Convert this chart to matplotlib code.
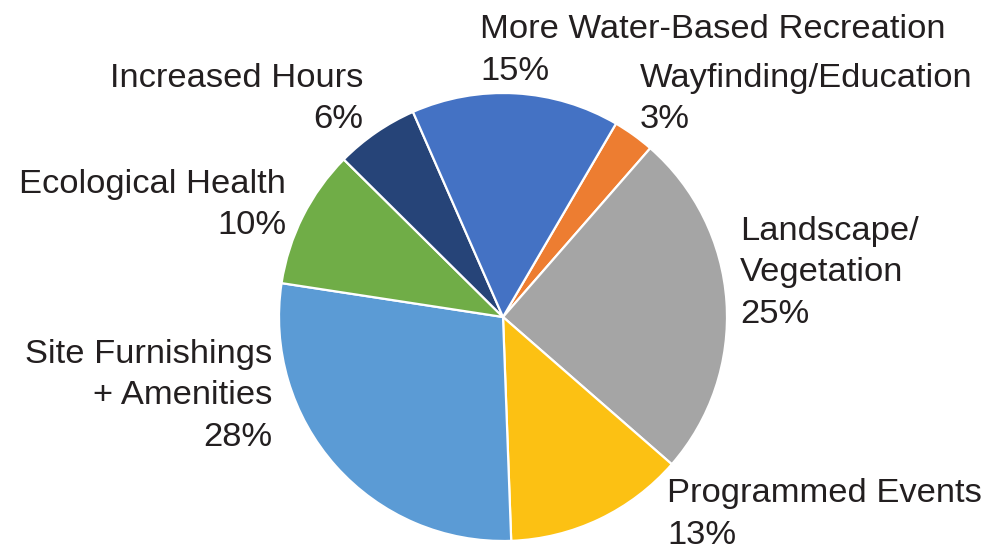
import matplotlib
matplotlib.use("Agg")
import matplotlib.pyplot as plt

categories = ["Wayfinding/Education", "Landscape/\nVegetation", "Programmed Events",
              "Site Furnishings\n+ Amenities", "Ecological Health", "Increased Hours",
              "More Water-Based Recreation"]
values = [3, 25, 13, 28, 10, 6, 15]
colors = ["#ED7D31", "#A5A5A5", "#FCC113", "#5B9BD5", "#70AD47", "#264478", "#4472C4"]

# label anchor (pixel x, baseline y of first line), alignment
label_pos = [(640, 87, "left"), (740, 240, "left"), (667, 502, "left"),
             (272, 363, "right"), (286, 193, "right"), (363, 87, "right"),
             (480, 38, "left")]

W, H = 988, 551
fig = plt.figure(figsize=(W / 100, H / 100), dpi=100)
ax = fig.add_axes([0, 0, 1, 1])

cx, cy, r = 503, H - 317, 224
ax.pie(values, colors=colors, startangle=59.7, counterclock=False,
       center=(cx, cy), radius=r, frame=True,
       wedgeprops=dict(edgecolor="white", linewidth=1.6))
ax.set_xlim(0, W)
ax.set_ylim(0, H)
ax.set_aspect("equal")
ax.axis("off")

line_gap = 41.5
for cat, val, (x, y, ha) in zip(categories, values, label_pos):
    lines = cat.split("\n") + [f"{val}%"]
    for i, ln in enumerate(lines):
        ax.text(x, H - (y + i * line_gap), ln, ha=ha, va="baseline",
                fontsize=24.8, family="Liberation Sans", color="#231F20")

fig.savefig("out.png", dpi=100)
